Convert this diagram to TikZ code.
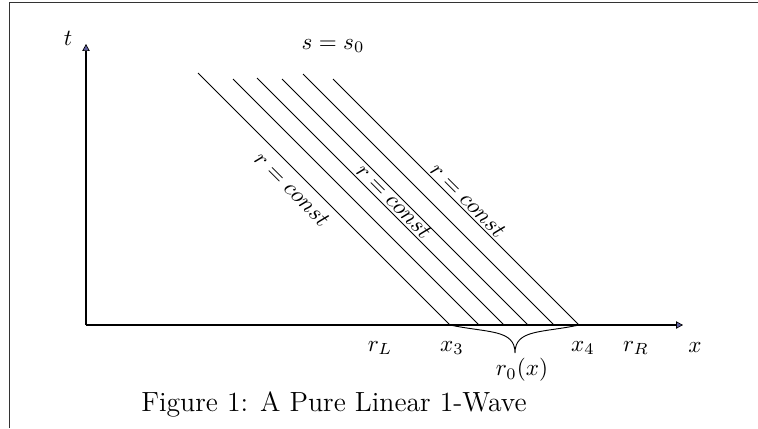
\documentclass[tikz,border=0pt]{standalone}
\usepackage{amsmath}
\usepackage{tikz}
\usetikzlibrary{arrows.meta, calc}

\begin{document}
\begin{tikzpicture}[x=0.0152cm, y=-0.0152cm,
    axis/.style={semithick, -{Triangle[length=3pt, width=3.2pt, color=black, fill=tipblue, line width=0.3pt]}},
    char/.style={thin},
    lbl/.style={inner sep=1pt},
    rlbl/.style={inner sep=1pt, rotate=-45}]
\colorlet{tipblue}{blue!25!gray}
\useasboundingbox (0,0) rectangle (758,428);
\draw[thin, black!80] (9,428) -- (9,2) -- (758,2);

\coordinate (origin) at (86,325);
\coordinate (ttop) at (86,44);
\coordinate (xend) at (683,325);
\draw[axis] (origin) -- (ttop);
\draw[axis] (origin) -- (xend);
\node[lbl] (t) at (68,38) {$t$};
\node[lbl] (x) at (695,348) {$x$};
\node[lbl] (s0) at (333,46) {$s = s_0$};

% characteristics
\coordinate (x3) at (450,325);
\coordinate (x4) at (579,325);
\foreach \b/\d in {450/252, 479/246, 504/247, 528/246, 554/251, 579/246}
  \draw[char] (\b,325) -- ++(-\d,-\d);

\node[rlbl] (c1) at (292,189) {$r = const$};
\node[rlbl] (c2) at (394,201) {$r = const$};
\node[rlbl] (c3) at (468,200) {$r = const$};

% brace
\coordinate (tip) at (515,353);
\draw[thin] (x3) .. controls (488,333) and (515,329) .. (tip)
  .. controls (515,329) and (542,333) .. (x4);

\node[lbl] (rL) at (380,348) {$r_L$};
\node[lbl] (lx3) at (452,348) {$x_3$};
\node[lbl] (lx4) at (583,348) {$x_4$};
\node[lbl] (rR) at (636,348) {$r_R$};
\node[lbl] (r0) at (522,370) {$r_0(x)$};

\node[lbl, font=\large] (cap) at (334,404) {Figure 1: A Pure Linear 1-Wave};
\end{tikzpicture}
\end{document}
